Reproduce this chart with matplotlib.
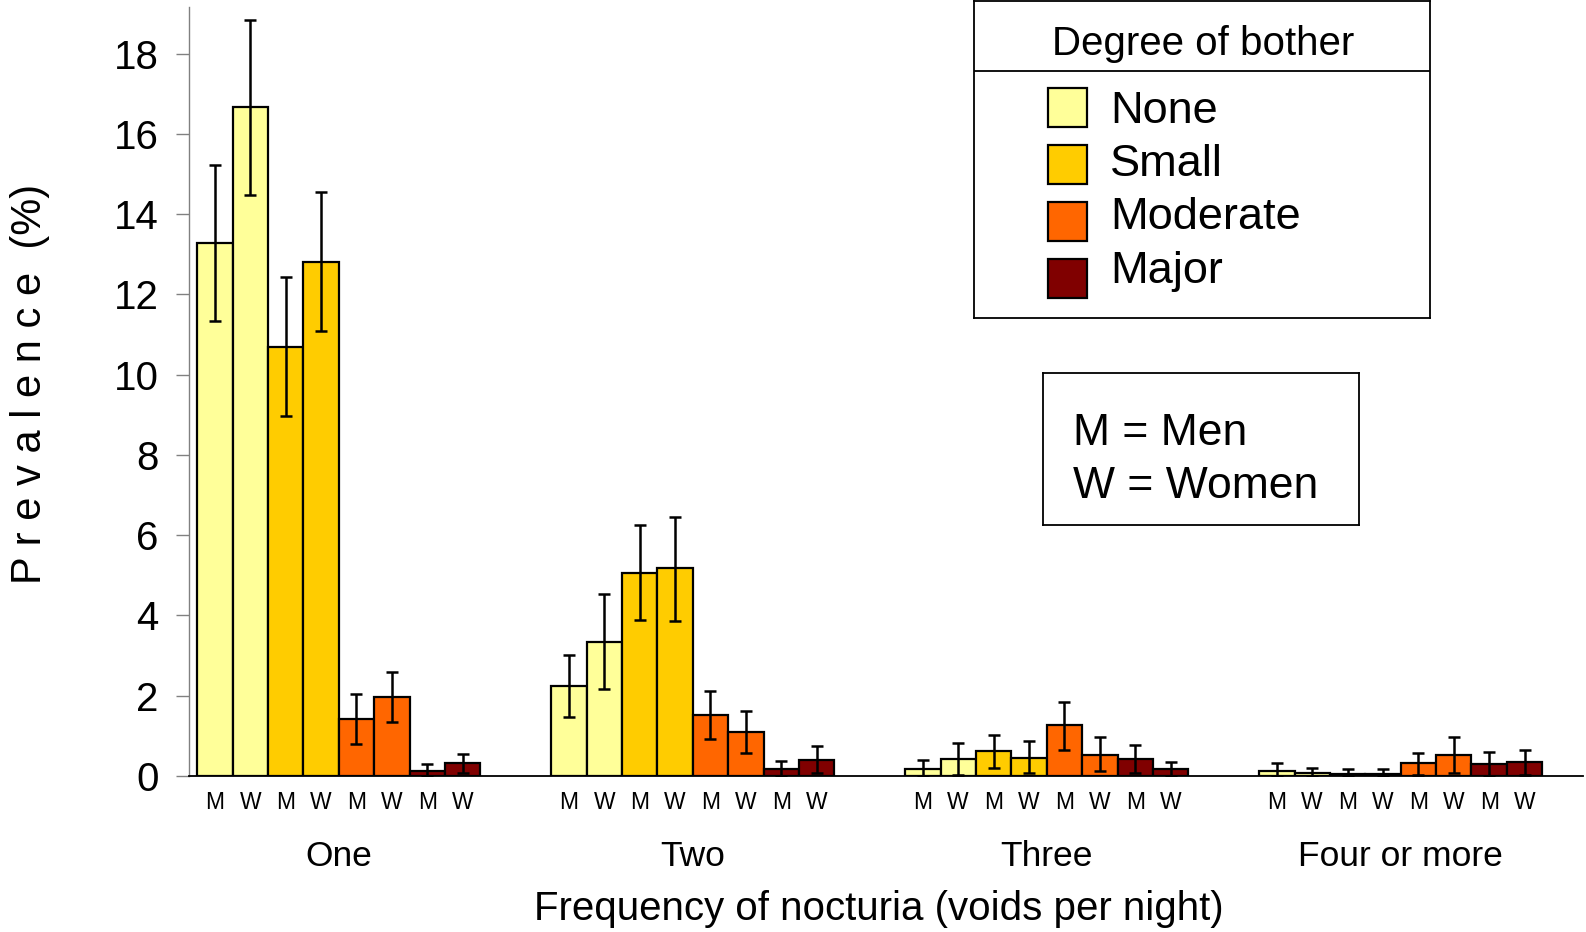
import numpy as np
import matplotlib.pyplot as plt
import matplotlib.transforms as mtransforms
from matplotlib.patches import Rectangle

plt.rcParams['font.family'] = ['Liberation Sans', 'DejaVu Sans']

groups = ['One', 'Two', 'Three', 'Four or more']
levels = ['None', 'Small', 'Moderate', 'Major']
colors = ['#FFFF99', '#FFCC00', '#FF6600', '#800000']

# prevalence (%) per frequency group, men and women, for each degree of bother
none_men = [13.27, 2.25, 0.18, 0.12]
none_women = [16.66, 3.35, 0.43, 0.08]
small_men = [10.70, 5.07, 0.62, 0.06]
small_women = [12.80, 5.17, 0.46, 0.06]
moderate_men = [1.42, 1.52, 1.26, 0.32]
moderate_women = [1.96, 1.09, 0.53, 0.53]
major_men = [0.12, 0.18, 0.42, 0.30]
major_women = [0.32, 0.41, 0.17, 0.34]

# confidence limits
none_men_lo = [11.33, 1.48, 0.00, 0.00]
none_men_hi = [15.23, 3.02, 0.41, 0.32]
none_women_lo = [14.48, 2.16, 0.03, 0.00]
none_women_hi = [18.83, 4.54, 0.83, 0.20]
small_men_lo = [8.98, 3.89, 0.20, 0.00]
small_men_hi = [12.44, 6.26, 1.02, 0.17]
small_women_lo = [11.08, 3.87, 0.07, 0.00]
small_women_hi = [14.56, 6.46, 0.86, 0.18]
moderate_men_lo = [0.79, 0.92, 0.65, 0.03]
moderate_men_hi = [2.05, 2.13, 1.85, 0.57]
moderate_women_lo = [1.34, 0.58, 0.12, 0.08]
moderate_women_hi = [2.60, 1.62, 0.97, 0.96]
major_men_lo = [0.00, 0.00, 0.07, 0.00]
major_men_hi = [0.30, 0.38, 0.77, 0.60]
major_women_lo = [0.07, 0.08, 0.00, 0.03]
major_women_hi = [0.55, 0.74, 0.36, 0.65]

series = [
    (none_men, none_men_lo, none_men_hi), (none_women, none_women_lo, none_women_hi),
    (small_men, small_men_lo, small_men_hi), (small_women, small_women_lo, small_women_hi),
    (moderate_men, moderate_men_lo, moderate_men_hi), (moderate_women, moderate_women_lo, moderate_women_hi),
    (major_men, major_men_lo, major_men_hi), (major_women, major_women_lo, major_women_hi),
]
sex_labels = ['M', 'W']

W, H = 1586, 932
fig = plt.figure(figsize=(W / 100, H / 100), dpi=100)
ax = fig.add_axes([189 / W, (H - 776) / H, (1583 - 189) / W, (776 - 7) / H])

xs_all, lab_all = [], []
for k, (vals, lo, hi) in enumerate(series):
    lev = k // 2
    x = np.arange(len(groups)) * 10 + k
    vals = np.array(vals)
    yerr = [vals - np.array(lo), np.array(hi) - vals]
    ax.bar(x, vals, width=1.0, color=colors[lev], edgecolor='black', linewidth=1.6, zorder=2)
    ax.errorbar(x, vals, yerr=yerr, fmt='none', ecolor='black', elinewidth=1.8,
                capsize=4.5, capthick=1.8, zorder=3)
    xs_all.extend(x)
    lab_all.extend([sex_labels[k % 2]] * len(groups))

ax.set_xlim(-0.73, 38.65)
ax.set_ylim(0, 19.16)
ax.set_yticks(np.arange(0, 19, 2))
ax.set_xticks(xs_all)
ax.set_xticklabels(lab_all)
ax.tick_params(axis='x', length=0, labelsize=16.5, pad=11)
ax.tick_params(axis='y', direction='out', length=9.5, width=1, color='#808080',
               labelsize=29, pad=12.5)
ax.yaxis.get_major_ticks()[0].tick1line.set_color('black')
for s in ['top', 'right']:
    ax.spines[s].set_visible(False)
ax.spines['left'].set_color('#808080')
ax.spines['left'].set_linewidth(1)
ax.spines['bottom'].set_color('black')
ax.spines['bottom'].set_linewidth(1.3)

trans = mtransforms.blended_transform_factory(ax.transData, fig.transFigure)
for g, name in enumerate(groups):
    ax.text(g * 10 + 3.5, (H - 856) / H, name, transform=trans, ha='center', va='center',
            fontsize=25.5)

fig.text(879 / W, (H - 909) / H, 'Frequency of nocturia (voids per night)', ha='center',
         va='center', fontsize=29)
fig.text(30 / W, (H - 384) / H, 'P r e v a l e n c e  (%)', rotation=90, ha='center',
         va='center', fontsize=30)

# legend box with title bar
leg = fig.add_axes([974 / W, (H - 318) / H, (1430 - 974) / W, 317 / H])
leg.set_xlim(974, 1430)
leg.set_ylim(318, 1)
leg.set_xticks([])
leg.set_yticks([])
for s in leg.spines.values():
    s.set_linewidth(1.3)
leg.axhline(71, color='black', linewidth=1.3)
leg.text(1203, 55, 'Degree of bother', ha='center', va='baseline', fontsize=29)
for i, (name, c) in enumerate(zip(levels, colors)):
    leg.add_patch(Rectangle((1048, 88.3 + i * 57), 39, 39, facecolor=c, edgecolor='black',
                            linewidth=1.6))
    leg.text(1110, 122.7 + i * 53.3, name, ha='left', va='baseline', fontsize=32.5)

# M / W key
key = fig.add_axes([1043 / W, (H - 525) / H, (1359 - 1043) / W, (525 - 373) / H])
key.set_xlim(1043, 1359)
key.set_ylim(525, 373)
key.set_xticks([])
key.set_yticks([])
for s in key.spines.values():
    s.set_linewidth(1.3)
key.text(1073, 445, 'M = Men', ha='left', va='baseline', fontsize=32)
key.text(1073, 498, 'W = Women', ha='left', va='baseline', fontsize=32)

fig.savefig('out.png', dpi=100)
